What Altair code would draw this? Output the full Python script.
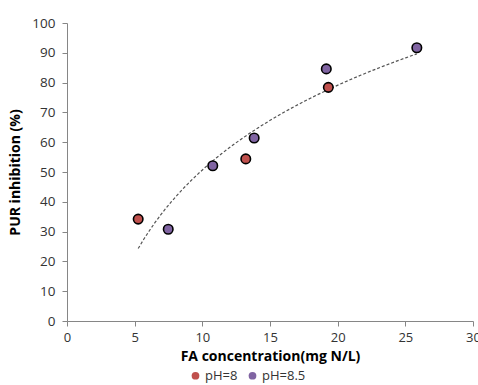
import altair as alt
import pandas as pd

series = ["pH=8", "pH=8", "pH=8", "pH=8.5", "pH=8.5", "pH=8.5", "pH=8.5", "pH=8.5"]
fa = [5.26, 13.21, 19.31, 7.48, 10.77, 13.83, 19.16, 25.85]
inhibition = [34.2, 54.4, 78.4, 30.8, 52.1, 61.4, 84.6, 91.7]

df = pd.DataFrame({"series": series, "FA": fa, "PUR": inhibition})

FONT = "Open Sans"

xs = alt.X("FA:Q", scale=alt.Scale(domain=[0, 30], nice=False),
           axis=alt.Axis(values=[0, 5, 10, 15, 20, 25, 30], title="FA concentration(mg N/L)"))
ys = alt.Y("PUR:Q", scale=alt.Scale(domain=[0, 100], nice=False),
           axis=alt.Axis(values=list(range(0, 101, 10)), title="PUR inhibition (%)"))

trend = alt.Chart(df).transform_regression("FA", "PUR", method="log").mark_line(
    color="#555555", strokeDash=[3, 2], strokeWidth=1.2
).encode(x=xs, y=ys)

points = alt.Chart(df).mark_point(filled=True, size=90, stroke="#000000", strokeWidth=1.6, opacity=1).encode(
    x=xs, y=ys,
    fill=alt.Fill("series:N", scale=alt.Scale(domain=["pH=8", "pH=8.5"], range=["#C0504D", "#8064A2"]),
                  legend=alt.Legend(title=None, orient="none", direction="horizontal",
                                    legendX=122, legendY=346, symbolSize=60, symbolStrokeWidth=0,
                                    labelFont=FONT, labelFontSize=13, labelColor="#333333",
                                    symbolOffset=0, columnPadding=8, labelOffset=3)),
)

chart = alt.layer(trend, points).properties(
    width=406, height=298,
    autosize=alt.AutoSizeParams(type="none"),
    padding={"left": 67, "top": 23, "right": 5, "bottom": 64},
).configure_view(stroke=None).configure_axis(
    grid=False, domainColor="#868686", tickColor="#868686", tickSize=5,
    labelFont=FONT, labelFontSize=13.5, labelColor="#333333", labelFlush=False,
    titleFont=FONT, titleFontSize=14, titleFontWeight="bold", titleColor="#000000",
).configure_axisX(labelPadding=5, titlePadding=5, labelFontSize=13).configure_axisY(labelPadding=7, titlePadding=9)

chart.save("out.html", embed_options={"renderer": "svg", "actions": False})
